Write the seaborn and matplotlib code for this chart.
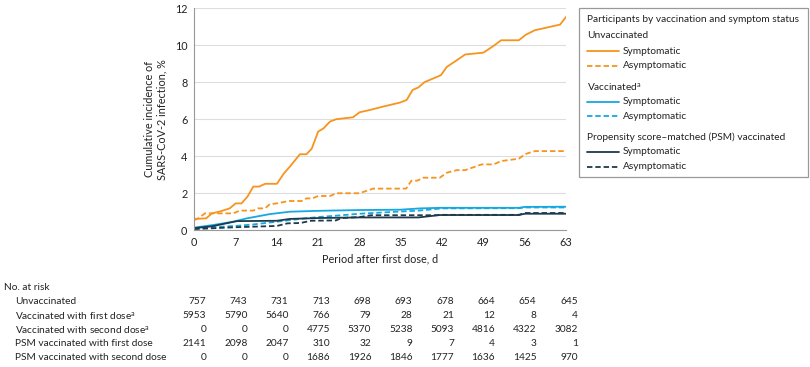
import numpy as np
import pandas as pd
import seaborn as sns
import matplotlib.pyplot as plt
from matplotlib.lines import Line2D
from matplotlib.patches import Rectangle
import matplotlib.transforms as mtransforms

# cumulative incidence curves (day, %)
unvax_sym_d = [0, 2, 3, 4.3, 6, 7, 8, 9, 10, 11, 12, 14, 15.2, 16.2, 17.9, 19, 19.9, 21, 21.9, 23, 24.1,
               26.9, 28, 29.8, 32, 34.9, 36, 37, 38, 39, 41.8, 42.8, 44.5, 45.9, 49, 50.7, 52, 55, 56.2,
               57.7, 62, 63]
unvax_sym_v = [0.6, 0.63, 0.9, 1.0, 1.17, 1.44, 1.44, 1.8, 2.35, 2.35, 2.5, 2.5, 3.07, 3.43, 4.1, 4.1, 4.4,
               5.33, 5.5, 5.87, 6.0, 6.1, 6.37, 6.5, 6.68, 6.9, 7.04, 7.58, 7.72, 8.0, 8.38, 8.83, 9.19, 9.5,
               9.6, 9.96, 10.27, 10.27, 10.57, 10.81, 11.12, 11.53]
unvax_asym_d = [0, 0.7, 1.8, 3, 6.6, 7.7, 10, 10.8, 12, 12.8, 14, 16, 18.2, 19, 20, 21, 23, 24.1, 28, 30.3,
                35.9, 36.8, 37.8, 38.8, 41.6, 42.8, 44.5, 45.9, 48.7, 50.7, 52, 55, 56.1, 57.7, 63]
unvax_asym_v = [0.54, 0.63, 0.9, 0.9, 0.9, 1.05, 1.05, 1.17, 1.17, 1.4, 1.44, 1.57, 1.57, 1.71, 1.71, 1.84,
                1.84, 1.99, 1.99, 2.24, 2.24, 2.67, 2.67, 2.83, 2.83, 3.1, 3.24, 3.24, 3.55, 3.55, 3.73,
                3.86, 4.11, 4.27, 4.27]
vax_sym_d = [0, 3.2, 6.6, 8.9, 11.1, 12.8, 16.2, 21.3, 28, 35, 38.3, 41.6, 55, 56, 63]
vax_sym_v = [0.13, 0.27, 0.45, 0.63, 0.76, 0.86, 0.99, 1.04, 1.08, 1.1, 1.17, 1.2, 1.2, 1.25, 1.26]
vax_asym_d = [0, 7, 10, 14, 18, 21, 25, 28, 32, 35, 38, 42, 55, 56, 63]
vax_asym_v = [0.1, 0.22, 0.3, 0.45, 0.6, 0.7, 0.8, 0.88, 0.95, 1.0, 1.05, 1.17, 1.18, 1.22, 1.22]
psm_sym_d = [0, 3, 7.2, 14, 16.2, 21.3, 28, 38, 41.6, 55, 56, 63]
psm_sym_v = [0.1, 0.2, 0.48, 0.5, 0.6, 0.65, 0.68, 0.68, 0.81, 0.81, 0.88, 0.88]
psm_asym_d = [0, 7, 12, 14, 15.8, 18, 19.8, 24, 25, 28, 30, 41, 42, 55, 56, 63]
psm_asym_v = [0.05, 0.15, 0.2, 0.22, 0.36, 0.38, 0.5, 0.52, 0.65, 0.7, 0.8, 0.8, 0.82, 0.82, 0.92, 0.92]

# number at risk table
risk_days = [0, 7, 14, 21, 28, 35, 42, 49, 56, 63]
risk_labels = ['Unvaccinated', 'Vaccinated with first dose$^{a}$', 'Vaccinated with second dose$^{a}$',
               'PSM vaccinated with first dose', 'PSM vaccinated with second dose']
risk_unvax = [757, 743, 731, 713, 698, 693, 678, 664, 654, 645]
risk_vax1 = [5953, 5790, 5640, 766, 79, 28, 21, 12, 8, 4]
risk_vax2 = [0, 0, 0, 4775, 5370, 5238, 5093, 4816, 4322, 3082]
risk_psm1 = [2141, 2098, 2047, 310, 32, 9, 7, 4, 3, 1]
risk_psm2 = [0, 0, 0, 1686, 1926, 1846, 1777, 1636, 1425, 970]

groups = ['Unvaccinated', 'Vaccinated', 'PSM vaccinated']
colors = {'Unvaccinated': '#f7941d', 'Vaccinated': '#16a8e0', 'PSM vaccinated': '#1e3a4c'}

curves = [('Unvaccinated', 'Symptomatic', unvax_sym_d, unvax_sym_v),
          ('Unvaccinated', 'Asymptomatic', unvax_asym_d, unvax_asym_v),
          ('Vaccinated', 'Symptomatic', vax_sym_d, vax_sym_v),
          ('Vaccinated', 'Asymptomatic', vax_asym_d, vax_asym_v),
          ('PSM vaccinated', 'Symptomatic', psm_sym_d, psm_sym_v),
          ('PSM vaccinated', 'Asymptomatic', psm_asym_d, psm_asym_v)]
rows = []
for g, s, d, v in curves:
    for x, y in zip(d, v):
        rows.append({'group': g, 'status': s, 'day': x, 'inc': y})
df = pd.DataFrame(rows)

sns.set_style('white')
plt.rcParams['font.family'] = ['Liberation Sans Narrow', 'Lato', 'DejaVu Sans']
plt.rcParams['mathtext.default'] = 'regular'
txt = '#222222'
fs = 7.3

fig = plt.figure(figsize=(8.1, 3.67), dpi=100)
W, H = 810, 367
ax = fig.add_axes([194.3 / W, 1 - 230 / H, (566 - 194.3) / W, (230 - 8.3) / H])

dash = (3, 1.6)
sns.lineplot(data=df, x='day', y='inc', hue='group', style='status', palette=colors,
             dashes={'Symptomatic': '', 'Asymptomatic': dash}, estimator=None, sort=False,
             linewidth=1.3, legend=False, ax=ax)

ax.set_xlim(0, 63)
ax.set_ylim(0, 12)
ax.set_xticks(risk_days)
ax.set_yticks(range(0, 13, 2))
ax.yaxis.grid(True, color='#dddddd', linewidth=0.8)
ax.set_axisbelow(True)
for sp in ['top', 'right']:
    ax.spines[sp].set_visible(False)
for sp in ['left', 'bottom']:
    ax.spines[sp].set_color('#999999')
    ax.spines[sp].set_linewidth(0.8)
ax.tick_params(axis='x', length=3, color='#999999', labelsize=fs + 0.5, labelcolor=txt, pad=2)
ax.tick_params(axis='y', length=0, labelsize=fs + 0.5, labelcolor=txt, pad=5)
ax.set_xlabel('Period after first dose, d', fontsize=fs + 0.5, color=txt, labelpad=4)
ax.set_ylabel('Cumulative incidence of\nSARS-CoV-2 infection, %', fontsize=fs + 0.5, color=txt,
              labelpad=5, linespacing=1.15)

# number at risk table
tr = mtransforms.blended_transform_factory(ax.transData, fig.transFigure)
fig.text(4 / W, 1 - 288 / H, 'No. at risk', fontsize=fs, color=txt, va='center')
row_y = [302, 316, 330, 344, 358]
for lab, vals, y in zip(risk_labels, [risk_unvax, risk_vax1, risk_vax2, risk_psm1, risk_psm2], row_y):
    fig.text(15 / W, 1 - y / H, lab, fontsize=fs, color=txt, va='center')
    for d, n in zip(risk_days, vals):
        ax.text(d + 2.0, 1 - y / H, str(n), transform=tr, fontsize=fs, color=txt,
                ha='right', va='center')

# legend box
fig.add_artist(Rectangle((579.3 / W, 1 - 176.7 / H), (808.3 - 579.3) / W, (176.7 - 8.3) / H,
                         transform=fig.transFigure, fill=False, edgecolor='#999999', linewidth=0.9))
fig.text(587.3 / W, 1 - 20 / H, 'Participants by vaccination and symptom status', fontsize=fs,
         color=txt, va='center')
heads = ['Unvaccinated', 'Vaccinated$^{a}$', 'Propensity score–matched (PSM) vaccinated']
head_y = [36, 86.7, 137]
for g, h, hy in zip(groups, heads, head_y):
    fig.text(587.3 / W, 1 - hy / H, h, fontsize=fs, color=txt, va='center')
    for k, (s, ls) in enumerate([('Symptomatic', '-'), ('Asymptomatic', (0, dash))]):
        y = 1 - (hy + 15 + 14.5 * k) / H
        fig.add_artist(Line2D([587.3 / W, 619 / W], [y, y], transform=fig.transFigure,
                              color=colors[g], linestyle=ls, linewidth=1.3))
        fig.text(622.7 / W, y, s, fontsize=fs, color=txt, va='center')

fig.savefig('out.png', dpi=100)
